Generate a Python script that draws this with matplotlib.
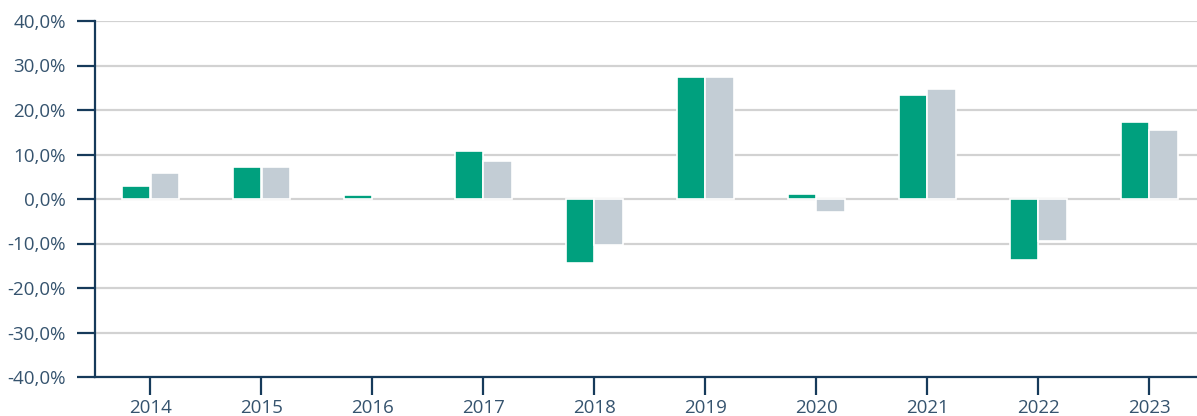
import numpy as np
import matplotlib.pyplot as plt
from matplotlib.ticker import FuncFormatter

years = ['2014', '2015', '2016', '2017', '2018', '2019', '2020', '2021', '2022', '2023']
fund = [2.9, 7.2, 0.8, 10.8, -14.3, 27.4, 1.1, 23.4, -13.8, 17.3]
benchmark = [5.8, 7.2, np.nan, 8.5, -10.3, 27.4, -3.0, 24.7, -9.5, 15.5]

green = '#00A07E'
grey = '#C3CDD5'
navy = '#163A5A'
label_col = '#35536E'

plt.rcParams['font.family'] = ['Open Sans', 'DejaVu Sans']

fig = plt.figure(figsize=(11.97, 4.16), dpi=100)
ax = fig.add_axes([95 / 1197, 1 - 377 / 416, 1 - 95 / 1197, (377 - 21) / 416])

x = np.arange(len(years))
w = 0.255
ax.bar(x - 0.128, fund, w, color=green, edgecolor='white', linewidth=1.2, zorder=3)
ax.bar(x + 0.128, benchmark, w, color=grey, edgecolor='white', linewidth=1.2, zorder=3)

ax.set_ylim(-40, 40)
ax.set_xlim(-0.5, 9.43)
ax.set_yticks(np.arange(-40, 41, 10))
ax.yaxis.set_major_formatter(FuncFormatter(lambda v, p: f'{v:.1f}%'.replace('.', ',')))
ax.set_xticks(x)
ax.set_xticklabels(years)

ax.grid(axis='y', color='#D2D2D2', linewidth=1.6, zorder=0)
ax.set_axisbelow(True)

for s in ['top', 'right']:
    ax.spines[s].set_visible(False)
for s in ['left', 'bottom']:
    ax.spines[s].set_color(navy)
    ax.spines[s].set_linewidth(1.6)
    ax.spines[s].set_zorder(4)

ax.tick_params(axis='y', length=13, width=1.6, color=navy, pad=8, labelsize=13.5, labelcolor=label_col)
ax.tick_params(axis='x', length=13, width=1.6, color=navy, pad=3, labelsize=13.5, labelcolor=label_col)

fig.savefig('out.png', dpi=100)
